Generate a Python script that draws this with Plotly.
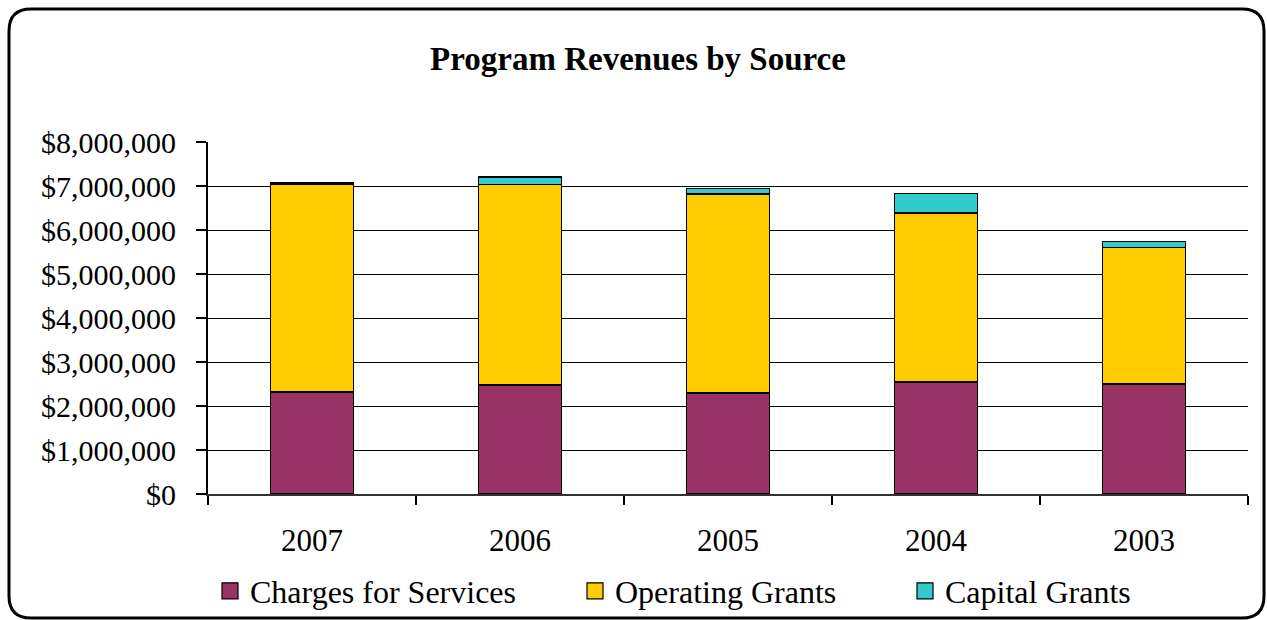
import plotly.graph_objects as go

# Program revenues by fiscal year (USD)
years = ["2007", "2006", "2005", "2004", "2003"]
charges_for_services = [2325000, 2480000, 2295000, 2540000, 2500000]
operating_grants = [4720000, 4550000, 4530000, 3850000, 3100000]
capital_grants = [35000, 170000, 115000, 440000, 135000]
y_ticks = [0, 1000000, 2000000, 3000000, 4000000, 5000000, 6000000, 7000000, 8000000]

series = [
    ("Charges for Services", charges_for_services, "#993366"),
    ("Operating Grants", operating_grants, "#FFCC00"),
    ("Capital Grants", capital_grants, "#33CCCC"),
]

FONT = "Liberation Serif, Times New Roman, serif"
W, H = 1267, 620
L, R, T, B = 176, 19, 142, 126   # margins; the left one holds the dollar labels
AXIS_X = 208                      # pixel column of the value axis line
pw, ph = W - L - R, H - T - B

fig = go.Figure()
for name, vals, color in series:
    fig.add_trace(go.Bar(
        x=years, y=vals, name=name, width=0.4,
        marker=dict(color=color, line=dict(color="black", width=1.6)),
        legendgroup=name, showlegend=False,
    ))

# square legend keys, each in its own legend box
legend_ids = ["legend", "legend2", "legend3"]
legend_left = [210, 575, 905]
for (name, vals, color), lid in zip(series, legend_ids):
    fig.add_trace(go.Scatter(
        x=[None], y=[None], mode="markers", name=name, legendgroup=name,
        legend=lid,
        marker=dict(symbol="square", size=18, color=color,
                    line=dict(color="black", width=1.2)),
    ))

# empty trace tying the label-only axis into the figure
fig.add_trace(go.Scatter(x=[None], y=[None], yaxis="y2", showlegend=False,
                         hoverinfo="skip"))


def px(x):
    return (x - L) / pw


def py(y):
    return (H - B - y) / ph


# rounded frame around the whole chart
x0, x1, y0, y1, r = 9, 1264, 9, 618, 22
path = (
    f"M {px(x0 + r)},{py(y0)} L {px(x1 - r)},{py(y0)} "
    f"Q {px(x1)},{py(y0)} {px(x1)},{py(y0 + r)} "
    f"L {px(x1)},{py(y1 - r)} Q {px(x1)},{py(y1)} {px(x1 - r)},{py(y1)} "
    f"L {px(x0 + r)},{py(y1)} Q {px(x0)},{py(y1)} {px(x0)},{py(y1 - r)} "
    f"L {px(x0)},{py(y0 + r)} Q {px(x0)},{py(y0)} {px(x0 + r)},{py(y0)} Z"
)

legend_style = dict(orientation="h", xref="container", yref="container",
                    xanchor="left", y=1 - 591 / H, yanchor="middle",
                    font=dict(family=FONT, size=32), bgcolor="rgba(0,0,0,0)")

y_range = [0, 8000000]

fig.update_layout(
    width=W, height=H,
    margin=dict(l=L, r=R, t=T, b=B, autoexpand=False),
    paper_bgcolor="white", plot_bgcolor="white",
    barmode="stack",
    font=dict(family=FONT, size=31, color="black"),
    title=dict(text="<b>Program Revenues by Source</b>", x=638 / W, xanchor="center",
               y=1 - 58 / H, yanchor="middle", font=dict(family=FONT, size=33)),
    xaxis=dict(type="category", domain=[px(AXIS_X), 1], tickson="boundaries",
               ticks="outside", ticklen=9, tickcolor="black", tickwidth=1.5,
               showline=True, linecolor="#333", linewidth=1.5, showgrid=False,
               automargin=False, tickfont=dict(size=31), ticklabelstandoff=18),
    yaxis=dict(range=y_range, tickvals=y_ticks, showticklabels=False,
               ticks="outside", ticklen=10, tickcolor="black", tickwidth=1.5,
               showline=True, linecolor="black", linewidth=1.5,
               showgrid=True, gridcolor="black", gridwidth=1.2,
               zeroline=False, automargin=False),
    yaxis2=dict(range=y_range, overlaying="y", anchor="free", position=0, side="left",
                tickvals=y_ticks, ticktext=[f"${v:,.0f}" for v in y_ticks],
                ticks="", showline=False, showgrid=False, zeroline=False,
                automargin=False, tickfont=dict(family=FONT, size=30)),
    legend=dict(legend_style, x=legend_left[0] / W),
    legend2=dict(legend_style, x=legend_left[1] / W),
    legend3=dict(legend_style, x=legend_left[2] / W),
    shapes=[dict(type="path", xref="paper", yref="paper", path=path,
                 line=dict(color="black", width=3), layer="above")],
    showlegend=True,
)

fig.write_html("out.html")
